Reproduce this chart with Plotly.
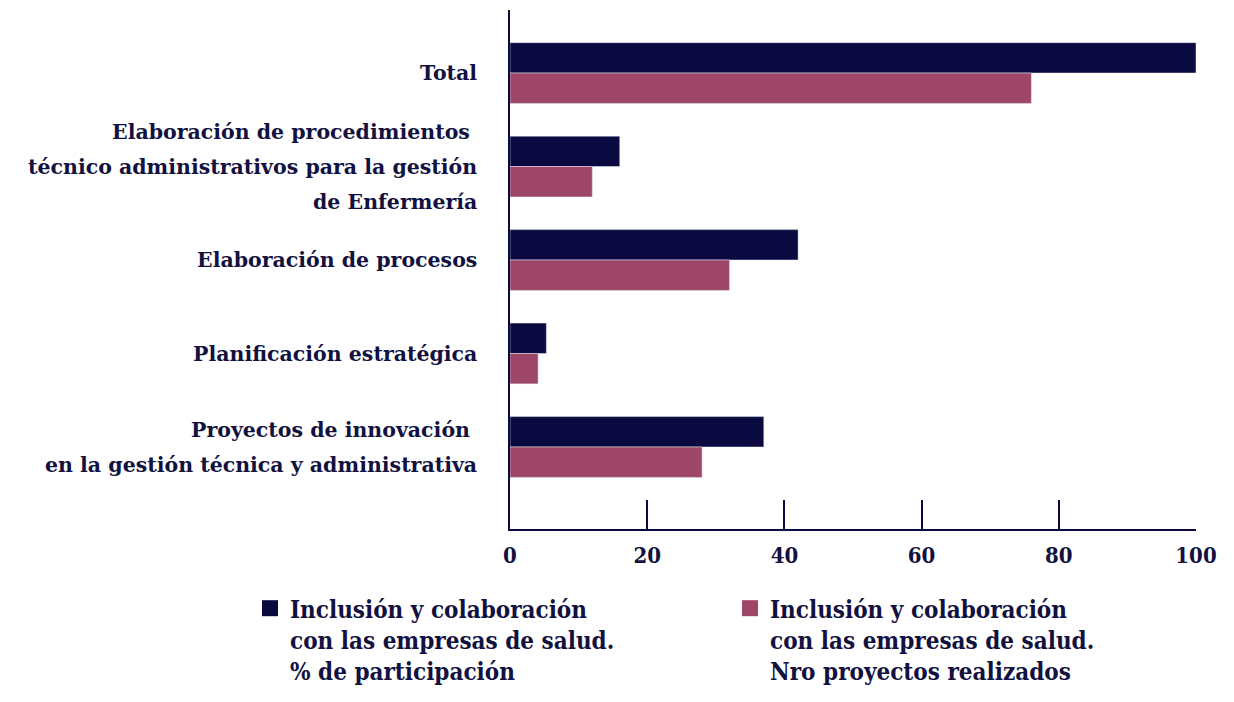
import plotly.graph_objects as go

categories = [
    "Total",
    "Elaboración de procedimientos\u00a0<br>técnico administrativos para la gestión<br>de Enfermería",
    "Elaboración de procesos",
    "Planificación estratégica",
    "Proyectos de innovación\u00a0<br>en la gestión técnica y administrativa",
]
participacion = [100, 16, 42, 5.3, 37]
proyectos = [76, 12, 32, 4.1, 28]

series_names = [
    "Inclusión y colaboración<br>con las empresas de salud.<br>% de participación",
    "Inclusión y colaboración<br>con las empresas de salud.<br>Nro proyectos realizados",
]

NAVY = "#0b0a40"
PINK = "#9d4667"
TEXT = "#12113f"
FONT = "DejaVu Serif"
FONT_NARROW = "DejaVu Serif Condensed"

fig = go.Figure()

fig.add_trace(go.Bar(
    y=categories, x=participacion, orientation="h",
    marker_color=NAVY, showlegend=False, name=series_names[0]
))
fig.add_trace(go.Bar(
    y=categories, x=proyectos, orientation="h",
    marker_color=PINK, showlegend=False, name=series_names[1]
))

# legend entries with bigger square symbols
for name, color in zip(series_names, [NAVY, PINK]):
    fig.add_trace(go.Scatter(
        x=[None], y=[None], mode="markers", name=name,
        marker=dict(symbol="square", size=22, color=color)
    ))

# category labels as annotations so the line spacing can be wider
line_gap = 35
for cat in categories:
    lines = cat.split("<br>")
    n = len(lines)
    for i, line in enumerate(lines):
        fig.add_annotation(
            x=0, xref="paper", y=cat, yref="y",
            text=line, showarrow=False,
            xanchor="right", yanchor="middle", xshift=-31,
            yshift=-(i - (n - 1) / 2) * line_gap,
            font=dict(family=FONT, size=20.5, color=TEXT, weight="bold"),
        )

# page has 8px body margin, so the figure is a bit smaller than the window
fig.update_layout(
    width=1226, height=694,
    paper_bgcolor="white", plot_bgcolor="white",
    margin=dict(l=502, r=38, t=2, b=173, autoexpand=False),
    barmode="group", bargap=0.35, bargroupgap=0,
    font=dict(family=FONT, color=TEXT),
    legend=dict(
        orientation="h", x=-0.379, y=-0.11, xanchor="left", yanchor="top",
        valign="top", entrywidth=435, itemsizing="trace",
        font=dict(family=FONT_NARROW, size=24, color=TEXT, weight="bold"),
        bgcolor="rgba(0,0,0,0)",
    ),
)

fig.update_xaxes(
    range=[0, 100], dtick=20, showgrid=False, zeroline=False,
    showline=True, linecolor=NAVY, linewidth=2,
    ticks="inside", ticklen=29, tickwidth=2, tickcolor=NAVY,
    ticklabelstandoff=6,
    tickfont=dict(family=FONT_NARROW, size=22, color=TEXT, weight="bold"),
    automargin=False,
)
fig.update_yaxes(
    type="category", range=[4.877, -0.674], showgrid=False, zeroline=False,
    showline=True, linecolor=NAVY, linewidth=2, ticks="",
    showticklabels=False, automargin=False,
)

fig.write_html("out.html")
